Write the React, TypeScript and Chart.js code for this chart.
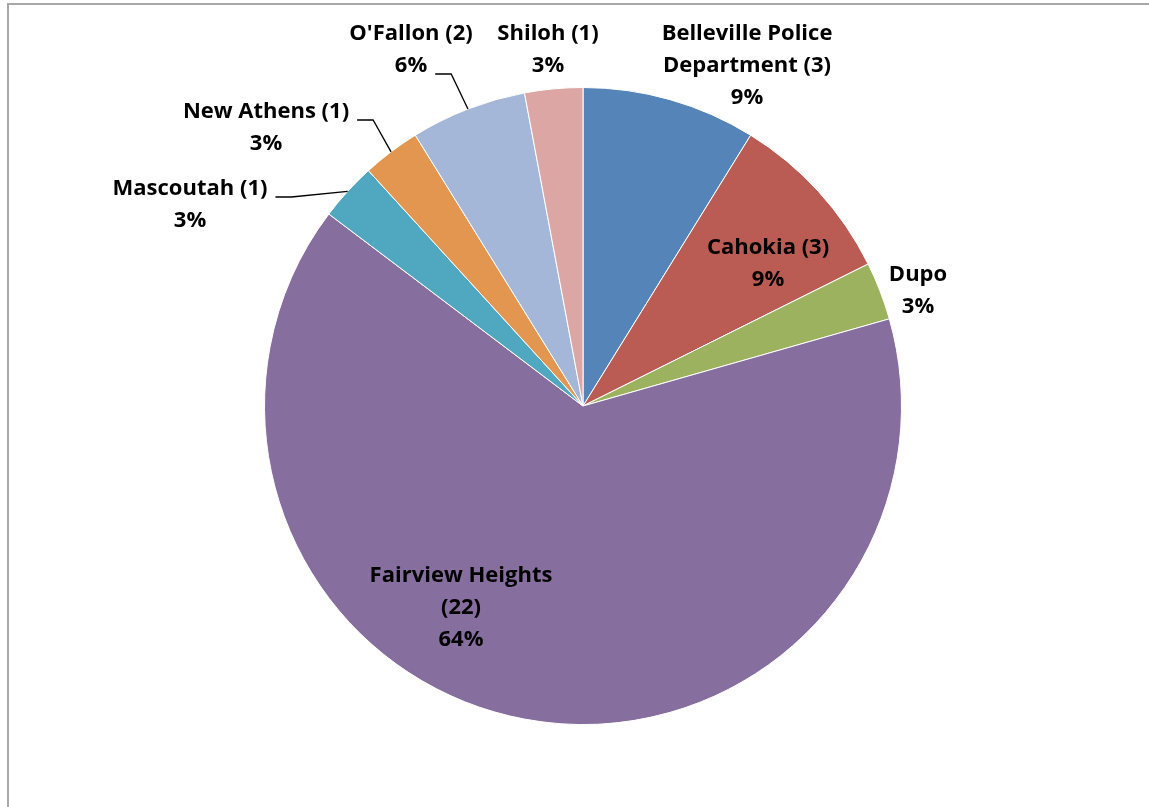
import React, { useEffect, useRef } from "react";
import { Chart, registerables } from "chart.js";

Chart.register(...registerables);

// ---- data ----
const categories = [
  "Belleville Police Department (3)",
  "Cahokia (3)",
  "Dupo",
  "Fairview Heights (22)",
  "Mascoutah (1)",
  "New Athens (1)",
  "O'Fallon (2)",
  "Shiloh (1)",
];
const counts = [3, 3, 1, 22, 1, 1, 2, 1];
const percentLabels = ["9%", "9%", "3%", "64%", "3%", "3%", "6%", "3%"];

// ---- styles / layout ----
const sliceColors = ["#5585B8", "#BA5B54", "#9CB25E", "#866E9F", "#4FA8C0", "#E3964F", "#A4B7D9", "#DBA6A4"];
// label block centre offsets from the pie centre; leaderLine = index of text line the leader starts from
const labelLayout: { dx: number; dy: number; leaderLine?: number }[] = [
  { dx: 164, dy: -340 },
  { dx: 185, dy: -142 },
  { dx: 335, dy: -115 },
  { dx: -122, dy: 202 },
  { dx: -393, dy: -201, leaderLine: 0 },
  { dx: -317, dy: -278, leaderLine: 0 },
  { dx: -172, dy: -356, leaderLine: 1 },
  { dx: -35, dy: -356 },
];
const FONT = "bold 22px 'Open Sans'";
const LINE_H = 32;
const WRAP_W = 215;

function wrap(ctx: CanvasRenderingContext2D, text: string, maxW: number): string[] {
  const words = text.split(" ");
  const lines: string[] = [];
  let cur = "";
  for (const w of words) {
    const t = cur ? cur + " " + w : w;
    if (cur && ctx.measureText(t).width > maxW) {
      lines.push(cur);
      cur = w;
    } else cur = t;
  }
  if (cur) lines.push(cur);
  return lines;
}

const labelPlugin = {
  id: "excelLabels",
  afterDatasetsDraw(chart: any) {
    const ctx: CanvasRenderingContext2D = chart.ctx;
    const meta = chart.getDatasetMeta(0);
    ctx.save();
    ctx.font = FONT;
    ctx.textAlign = "center";
    ctx.textBaseline = "middle";
    meta.data.forEach((arc: any, i: number) => {
      const { x, y, startAngle, endAngle, outerRadius } = arc.getProps(
        ["x", "y", "startAngle", "endAngle", "outerRadius"],
        true
      );
      const lay = labelLayout[i];
      const lines = [...wrap(ctx, categories[i], WRAP_W), percentLabels[i]];
      const cx = x + lay.dx;
      const cy = y + lay.dy;
      ctx.fillStyle = "#000";
      lines.forEach((ln, k) => {
        ctx.fillText(ln, cx, cy + (k - (lines.length - 1) / 2) * LINE_H);
      });
      if (lay.leaderLine !== undefined) {
        const k = lay.leaderLine;
        const lw = ctx.measureText(lines[k]).width;
        const sx = cx + lw / 2 + 8;
        const sy = cy + (k - (lines.length - 1) / 2) * LINE_H + 8;
        const mid = (startAngle + endAngle) / 2;
        const ex = x + Math.cos(mid) * outerRadius;
        const ey = y + Math.sin(mid) * outerRadius;
        ctx.beginPath();
        ctx.strokeStyle = "#000";
        ctx.lineWidth = 1.3;
        ctx.moveTo(sx, sy);
        ctx.lineTo(sx + 16, sy);
        ctx.lineTo(ex, ey);
        ctx.stroke();
      }
    });
    ctx.restore();
  },
};

export default function App() {
  const ref = useRef<HTMLCanvasElement>(null);
  useEffect(() => {
    if (!ref.current) return;
    const chart = new Chart(ref.current, {
      type: "pie",
      data: {
        labels: categories,
        datasets: [
          {
            data: counts,
            backgroundColor: sliceColors,
            borderColor: "#ffffff",
            borderWidth: 1,
          },
        ],
      },
      options: {
        responsive: false,
        animation: false,
        layout: { padding: { left: 17, right: 0, top: 87, bottom: 82 } },
        plugins: {
          legend: { display: false },
          tooltip: { enabled: false },
          title: { display: false },
        },
      },
      plugins: [labelPlugin],
    });
    return () => chart.destroy();
  }, []);
  return (
    <div
      style={{
        position: "absolute",
        left: 0,
        top: 0,
        width: 1149,
        height: 807,
        overflow: "hidden",
        background: "#fff",
      }}
    >
      <canvas ref={ref} width={1149} height={807} style={{ display: "block", width: 1149, height: 807 }} />
      <div
        style={{
          position: "absolute",
          left: 7,
          top: 3,
          width: 1200,
          height: 900,
          borderLeft: "2px solid #A8A8A8",
          borderTop: "2px solid #A8A8A8",
          pointerEvents: "none",
        }}
      />
    </div>
  );
}
